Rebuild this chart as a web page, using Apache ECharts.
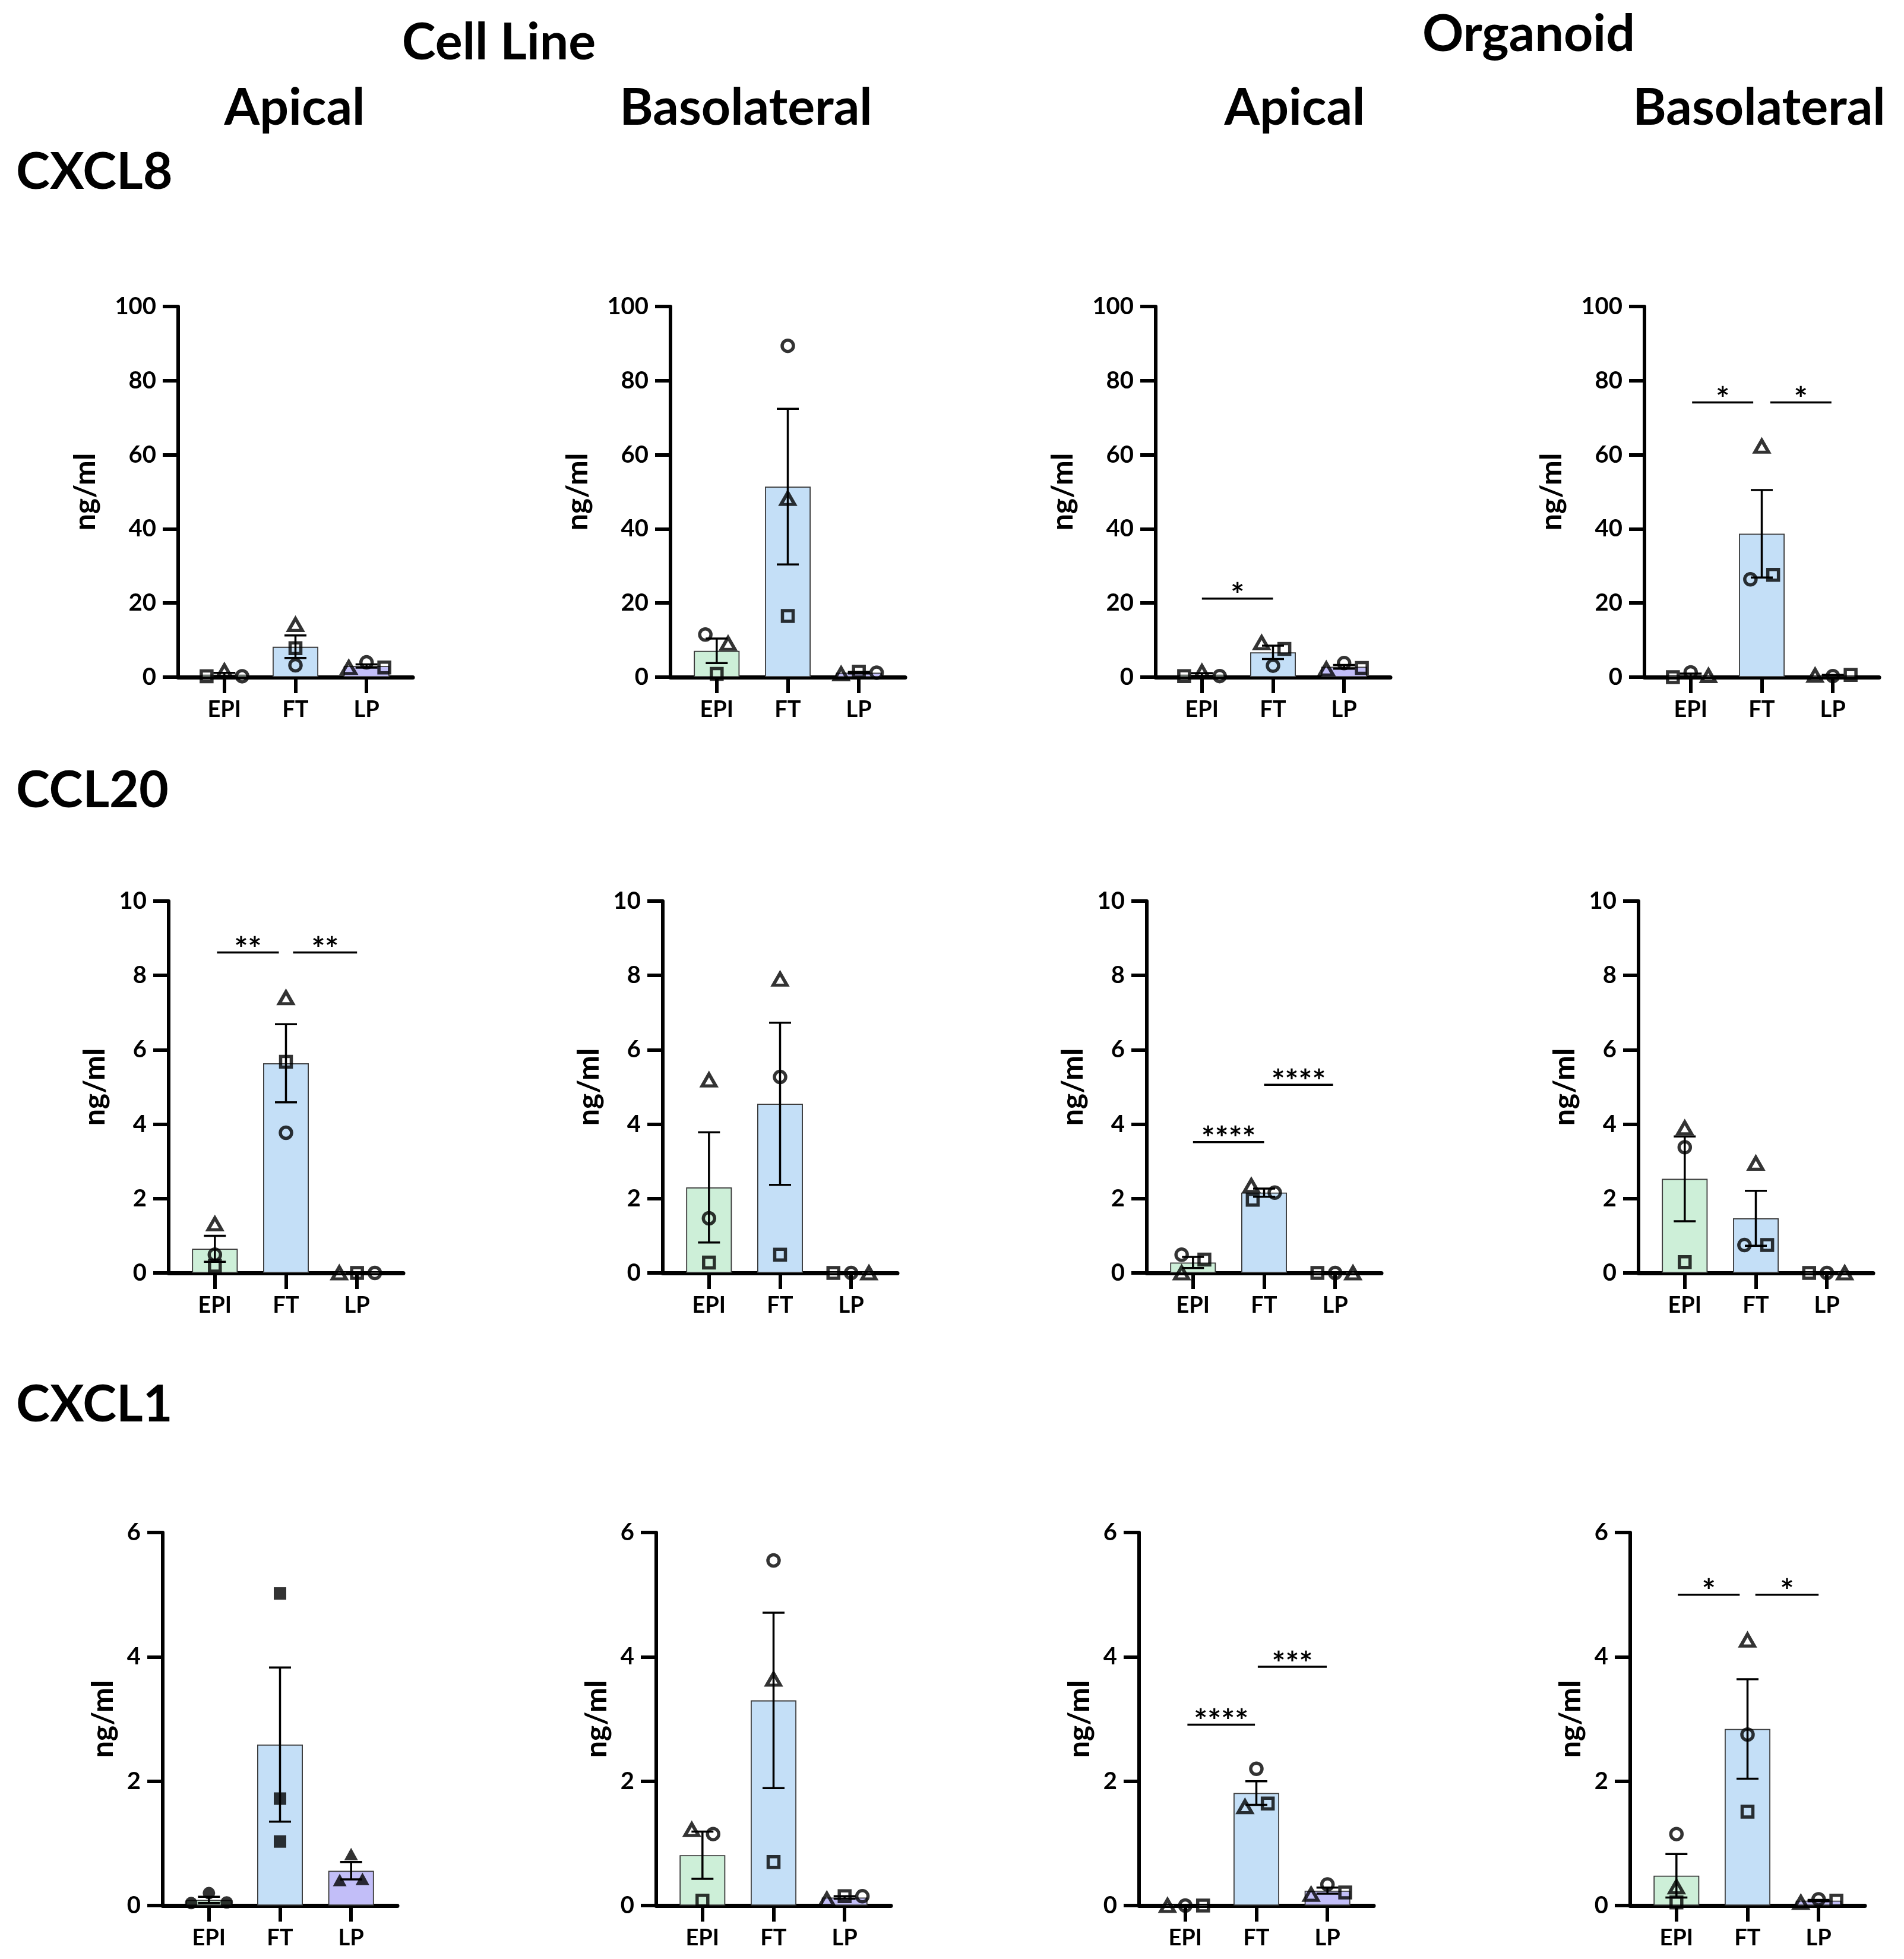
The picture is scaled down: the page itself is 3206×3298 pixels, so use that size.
<!DOCTYPE html>
<html>
<head>
<meta charset="utf-8">
<script src="https://cdn.jsdelivr.net/npm/echarts@6/dist/echarts.min.js"></script>
<style>
    html, body { margin: 0; padding: 0; background: #fff; }
    #chart { width: 3206px; height: 3298px; }
</style>
</head>
<body>
<div id="chart"></div>
<script>
//  groups on every x axis
var groups = ['EPI', 'FT', 'LP'];
var genes = ['CXCL8', 'CCL20', 'CXCL1'];
var yMax = [100, 10, 6];
var yStep = [20, 2, 2];

//  values per panel (Cell Line Apical, Cell Line Basolateral, Organoid Apical, Organoid Basolateral)
//  each inner array: [EPI, FT, LP]
var cxcl8Mean = [[0.7, 8.2, 3.0], [7.1, 51.4, 1.2], [0.7, 6.7, 2.8], [0.55, 38.7, 0.5]];
var cxcl8Sem  = [[0.45, 3.05, 0.45], [3.3, 21.0, 0.2], [0.4, 1.8, 0.5], [0.4, 11.8, 0.1]];
var cxcl8Tri  = [[1.7, 14.2, 2.6], [9.1, 48.2, 0.9], [1.5, 9.3, 2.2], [0.4, 62.3, 0.5]];
var cxcl8Cir  = [[0.25, 3.2, 4.0], [11.5, 89.4, 1.2], [0.3, 3.1, 3.8], [1.3, 26.4, 0.3]];
var cxcl8Sq   = [[0.25, 7.8, 2.6], [0.9, 16.5, 1.5], [0.3, 7.6, 2.5], [0, 27.6, 0.6]];
//  sideways spread of each dot in its column (in column steps)
var cxcl8TriX = [[0, 0, -0.25], [0.16, 0, -0.25], [0, -0.16, -0.25], [0.25, 0, -0.25]];
var cxcl8CirX = [[0.25, 0, 0], [-0.16, 0, 0.25], [0.25, 0, 0], [0, -0.16, 0]];
var cxcl8SqX  = [[-0.25, 0, 0.25], [0, 0, 0], [-0.25, 0.16, 0.25], [-0.25, 0.16, 0.25]];

var ccl20Mean = [[0.65, 5.64, 0], [2.3, 4.55, 0], [0.28, 2.16, 0], [2.53, 1.47, 0]];
var ccl20Sem  = [[0.35, 1.05, 0], [1.48, 2.18, 0], [0.15, 0.11, 0], [1.14, 0.74, 0]];
var ccl20Tri  = [[1.32, 7.4, 0], [5.19, 7.9, 0], [0, 2.35, 0], [3.9, 2.95, 0]];
var ccl20Cir  = [[0.49, 3.77, 0], [1.47, 5.27, 0], [0.49, 2.16, 0], [3.38, 0.75, 0]];
var ccl20Sq   = [[0.19, 5.68, 0], [0.28, 0.49, 0], [0.36, 1.97, 0], [0.29, 0.75, 0]];
var ccl20TriX = [[0, 0, -0.25], [0, 0, 0.25], [-0.16, -0.18, 0.25], [0, 0, 0.25]];
var ccl20CirX = [[0, 0, 0.25], [0, 0, 0], [-0.16, 0.15, 0], [0, -0.16, 0]];
var ccl20SqX  = [[0, 0, 0], [0, 0, -0.25], [0.16, -0.16, -0.25], [0, 0.16, -0.25]];

var cxcl1Mean = [[0.09, 2.59, 0.56], [0.81, 3.3, 0.13], [0, 1.81, 0.24], [0.48, 2.84, 0.08]];
var cxcl1Sem  = [[0.05, 1.24, 0.14], [0.38, 1.41, 0.02], [0, 0.19, 0.05], [0.35, 0.8, 0.01]];
var cxcl1Tri  = [[0.2, 5.02, 0.83], [1.22, 3.64, 0.1], [0, 1.59, 0.18], [0.3, 4.27, 0.05]];
var cxcl1Cir  = [[0.04, 1.72, 0.41], [1.15, 5.55, 0.15], [0, 2.2, 0.34], [1.15, 2.75, 0.1]];
var cxcl1Sq   = [[0.05, 1.03, 0.43], [0.08, 0.7, 0.15], [0, 1.64, 0.21], [0.05, 1.51, 0.08]];
var cxcl1TriX = [[0, 0, 0], [-0.15, 0, -0.25], [-0.25, -0.16, -0.23], [0, 0, -0.25]];
var cxcl1CirX = [[-0.25, 0, -0.16], [0.15, 0, 0.25], [0, 0, 0], [0, 0, 0]];
var cxcl1SqX  = [[0.25, 0, 0.16], [0, 0, 0], [0.25, 0.16, 0.25], [0, 0, 0.25]];

//  significance lines: [panel, from, to, level, stars]
var cxcl8Stars = [[2, 0, 1, 21.2, '*'], [3, 0.02, 0.88, 74.1, '*'], [3, 1.12, 1.98, 74.1, '*']];
var ccl20Stars = [[0, 0.03, 0.9, 8.62, '**'], [0, 1.1, 2.0, 8.62, '**'], [2, 0, 1, 3.52, '****'], [2, 1.0, 1.97, 5.06, '****']];
var cxcl1Stars = [[2, 0.03, 0.98, 2.91, '****'], [2, 1.02, 1.99, 3.84, '***'], [3, 0.02, 0.89, 5.0, '*'], [3, 1.11, 2.0, 5.0, '*']];

var geneData = [
    {mean: cxcl8Mean, sem: cxcl8Sem, pts: [cxcl8Tri, cxcl8Cir, cxcl8Sq], offs: [cxcl8TriX, cxcl8CirX, cxcl8SqX], stars: cxcl8Stars},
    {mean: ccl20Mean, sem: ccl20Sem, pts: [ccl20Tri, ccl20Cir, ccl20Sq], offs: [ccl20TriX, ccl20CirX, ccl20SqX], stars: ccl20Stars},
    {mean: cxcl1Mean, sem: cxcl1Sem, pts: [cxcl1Tri, cxcl1Cir, cxcl1Sq], offs: [cxcl1TriX, cxcl1CirX, cxcl1SqX], stars: cxcl1Stars}
];

//  layout
var FONT = 'Lato, "Open Sans", sans-serif';
var barColors = ['#CDEFD8', '#C4DFF7', '#C2BEF8'];
var rowTop = [516, 1517, 2580];
var rowBottom = [1140, 2143, 3208];
var colLeft = [[300, 1129, 1946, 2769], [284, 1116, 1931, 2759], [274, 1105, 1918, 2745]];
var plotW = 395;
var nameGap = [131, 99, 75];
var donorSymbols = ['triangle', 'circle', 'rect'];
var donorSizes = [[23, 20], 19, 18];
var groupSymbols = ['circle', 'rect', 'triangle'];   // filled panel (CXCL1, Cell Line Apical)

var chart = echarts.init(document.getElementById('chart'));

var grids = [], xAxes = [], yAxes = [], series = [];

for (var r = 0; r < 3; r++) {
    for (var c = 0; c < 4; c++) {
        var idx = r * 4 + c;
        var gd = geneData[r];
        var filled = (r === 2 && c === 0);

        grids.push({
            left: colLeft[r][c],
            top: rowTop[r],
            width: plotW,
            height: rowBottom[r] - rowTop[r]
        });

        xAxes.push({
            type: 'value',
            gridIndex: idx,
            min: -0.65,
            max: 2.65,
            axisLine: { show: true, onZero: true, lineStyle: { color: '#000', width: 7 } },
            axisTick: { show: true, customValues: [0, 1, 2], length: 27, lineStyle: { color: '#000', width: 6 } },
            axisLabel: {
                customValues: [0, 1, 2],
                formatter: function (v) { return groups[Math.round(v)]; },
                color: '#000',
                fontFamily: FONT,
                fontWeight: 'bold',
                fontSize: 38,
                margin: 36
            },
            splitLine: { show: false }
        });

        yAxes.push({
            type: 'value',
            gridIndex: idx,
            min: 0,
            max: yMax[r],
            interval: yStep[r],
            name: 'ng/ml',
            nameLocation: 'middle',
            nameRotate: 90,
            nameGap: nameGap[r],
            nameTextStyle: { color: '#000', fontFamily: FONT, fontWeight: 'bold', fontSize: 50 },
            axisLine: { show: true, onZero: false, lineStyle: { color: '#000', width: 6 } },
            axisTick: { show: true, length: 26, lineStyle: { color: '#000', width: 6 } },
            axisLabel: { color: '#000', fontFamily: FONT, fontWeight: 'bold', fontSize: 40, margin: 37 },
            splitLine: { show: false }
        });

        //  bars (mean)
        series.push({
            type: 'bar',
            xAxisIndex: idx,
            yAxisIndex: idx,
            barWidth: 77,
            z: 2,
            data: gd.mean[c].map(function (m, g) {
                return { value: [g, m], itemStyle: { color: barColors[g], borderColor: '#3a3a3a', borderWidth: 1.8 } };
            })
        });

        //  error bars (SEM)
        series.push({
            type: 'custom',
            xAxisIndex: idx,
            yAxisIndex: idx,
            z: 3,
            data: gd.mean[c].map(function (m, g) { return [g, m, gd.sem[c][g]]; }),
            renderItem: function (params, api) {
                var g = api.value(0), m = api.value(1), s = api.value(2);
                var top = api.coord([g, m + s]);
                var bot = api.coord([g, Math.max(0, m - s)]);
                var half = 18.5;
                var st = { stroke: '#000', lineWidth: 3.5 };
                return {
                    type: 'group',
                    children: [
                        { type: 'line', shape: { x1: top[0], y1: top[1], x2: bot[0], y2: bot[1] }, style: st },
                        { type: 'line', shape: { x1: top[0] - half, y1: top[1], x2: top[0] + half, y2: top[1] }, style: st },
                        { type: 'line', shape: { x1: bot[0] - half, y1: bot[1], x2: bot[0] + half, y2: bot[1] }, style: st }
                    ]
                };
            }
        });

        //  individual donors
        for (var d = 0; d < 3; d++) {
            var pts = gd.pts[d][c];
            var offs = gd.offs[d][c];
            series.push({
                type: 'scatter',
                xAxisIndex: idx,
                yAxisIndex: idx,
                z: 4,
                data: pts.map(function (v, g) {
                    var item = { value: [g + offs[g], v] };
                    if (filled) {
                        item.symbol = groupSymbols[g];
                        item.symbolSize = g === 2 ? [23, 21] : 21;
                    }
                    return item;
                }),
                symbol: donorSymbols[d],
                symbolSize: donorSizes[d],
                itemStyle: filled
                    ? { color: '#000', borderWidth: 0 }
                    : { color: 'rgba(0,0,0,0)', borderColor: '#000', borderWidth: 5.5 },
                emphasis: { disabled: true }
            });
        }

        //  significance lines
        var stars = gd.stars.filter(function (s) { return s[0] === c; });
        if (stars.length) {
            series.push({
                type: 'custom',
                xAxisIndex: idx,
                yAxisIndex: idx,
                z: 5,
                clip: false,
                data: stars.map(function (s) { return [s[1], s[2], s[3], s[4]]; }),
                renderItem: function (params, api) {
                    var a = api.coord([api.value(0), api.value(2)]);
                    var b = api.coord([api.value(1), api.value(2)]);
                    return {
                        type: 'group',
                        children: [
                            { type: 'line', shape: { x1: a[0], y1: a[1], x2: b[0], y2: b[1] }, style: { stroke: '#000', lineWidth: 3.5 } },
                            {
                                type: 'text',
                                x: (a[0] + b[0]) / 2,
                                y: a[1] - 5,
                                style: {
                                    text: api.value(3),
                                    fill: '#000',
                                    font: 'bold 54px ' + FONT,
                                    align: 'center',
                                    verticalAlign: 'middle'
                                }
                            }
                        ]
                    };
                }
            });
        }
    }
}

//  headings
function heading(text, x, y, align) {
    return {
        type: 'text',
        x: x,
        y: y,
        style: {
            text: text,
            fill: '#000',
            font: 'bold 86px ' + FONT,
            align: align || 'center',
            verticalAlign: 'middle'
        }
    };
}

var headings = [
    heading('Cell Line', 840, 72),
    heading('Organoid', 2574, 58),
    heading('Apical', 496, 182),
    heading('Basolateral', 1256, 182),
    heading('Apical', 2180, 182),
    heading('Basolateral', 2962, 182),
    heading(genes[0], 27, 290, 'left'),
    heading(genes[1], 27, 1331, 'left'),
    heading(genes[2], 27, 2365, 'left')
];

chart.setOption({
    backgroundColor: '#fff',
    animation: false,
    grid: grids,
    xAxis: xAxes,
    yAxis: yAxes,
    series: series,
    graphic: headings
});

window.addEventListener('resize', function () {
    chart.resize();
});
</script>
</body>
</html>
